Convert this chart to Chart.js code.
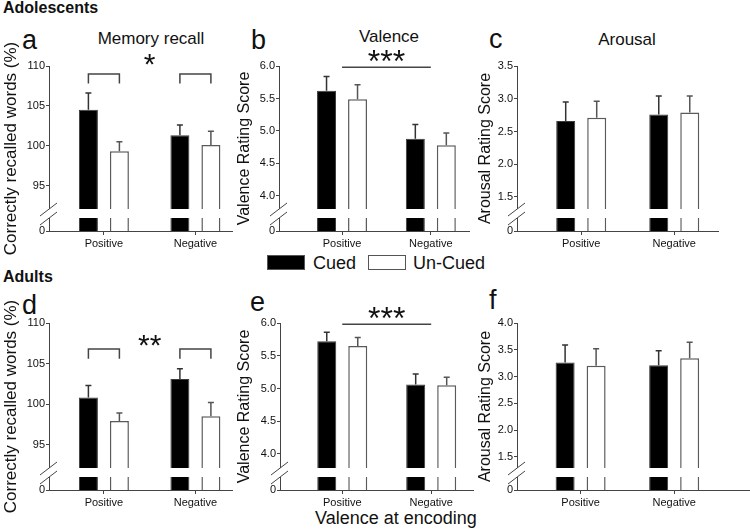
<!DOCTYPE html>
<html lang="en">
<head>
<meta charset="UTF-8">
<title>Memory recall, valence and arousal</title>
<script src="https://cdn.jsdelivr.net/npm/chart.js"></script>
<style>
    body { margin: 0; background: #fff; }
    #figure {
        position: relative;
        width: 750px;
        height: 529px;
        overflow: hidden;
        font-family: "Liberation Sans", Arial, sans-serif;
        color: #111;
    }
    #figure canvas { position: absolute; }
    .txt { position: absolute; white-space: nowrap; line-height: 1; }
    .group { font-size: 16px; font-weight: bold; left: 3px; }
    .letter { font-size: 27px; }
    .ptitle { font-size: 17px; transform: translateX(-50%); }
    .box { position: absolute; width: 36px; height: 13px; border: 1.5px solid #555; }
</style>
</head>
<body>

<div id="figure">
    <div class="txt group" style="top:0px">Adolescents</div>
    <div class="txt group" style="top:269px">Adults</div>

    <div class="txt letter" style="left:22px; top:27px">a</div>
    <div class="txt letter" style="left:251px; top:27px">b</div>
    <div class="txt letter" style="left:489px; top:26px">c</div>
    <div class="txt letter" style="left:22px; top:292px">d</div>
    <div class="txt letter" style="left:250px; top:289px">e</div>
    <div class="txt letter" style="left:489px; top:287px">f</div>

    <div class="txt ptitle" style="left:151px; top:30px">Memory recall</div>
    <div class="txt ptitle" style="left:389px; top:28px">Valence</div>
    <div class="txt ptitle" style="left:627px; top:31px">Arousal</div>

    <!-- legend -->
    <div class="box" style="left:267px; top:255px; background:#000"></div>
    <div class="txt" style="left:313px; top:254px; font-size:18px">Cued</div>
    <div class="box" style="left:368px; top:255px; background:#fff"></div>
    <div class="txt" style="left:413px; top:254px; font-size:18px">Un-Cued</div>

    <div class="txt" style="left:315px; top:509px; font-size:18px">Valence at encoding</div>
</div>

<script>
    Chart.defaults.font.family = '"Liberation Sans", Arial, sans-serif';

    // categories
    const categories = ["Positive", "Negative"];

    // Adolescents (means and SEM)
    const recallAdolCued = [104.5, 101.3];
    const recallAdolCuedErr = [2.1, 1.3];
    const recallAdolUncued = [99.3, 100.1];
    const recallAdolUncuedErr = [1.2, 1.7];

    const valenceAdolCued = [5.62, 4.88];
    const valenceAdolCuedErr = [0.22, 0.22];
    const valenceAdolUncued = [5.49, 4.78];
    const valenceAdolUncuedErr = [0.22, 0.19];

    const arousalAdolCued = [2.66, 2.76];
    const arousalAdolCuedErr = [0.29, 0.28];
    const arousalAdolUncued = [2.71, 2.79];
    const arousalAdolUncuedErr = [0.25, 0.25];

    // Adults (means and SEM)
    const recallAdultCued = [100.8, 103.1];
    const recallAdultCuedErr = [1.5, 1.25];
    const recallAdultUncued = [97.9, 98.5];
    const recallAdultUncuedErr = [1.0, 1.7];

    const valenceAdultCued = [5.72, 5.06];
    const valenceAdultCuedErr = [0.14, 0.16];
    const valenceAdultUncued = [5.65, 5.05];
    const valenceAdultUncuedErr = [0.13, 0.12];

    const arousalAdultCued = [3.26, 3.21];
    const arousalAdultCuedErr = [0.33, 0.27];
    const arousalAdultUncued = [3.20, 3.34];
    const arousalAdultUncuedErr = [0.32, 0.30];

    // y tick labels (the "0" under the axis break is added separately)
    const recallTicks = [95, 100, 105, 110];
    const valenceTicks = [4.0, 4.5, 5.0, 5.5, 6.0];
    const arousalAdolTicks = [1.5, 2.0, 2.5, 3.0, 3.5];
    const arousalAdultTicks = [1.5, 2.0, 2.5, 3.0, 3.5, 4.0];

    const figure = document.getElementById("figure");

    // error bars, axis break and significance marks
    function decoPlugin(p) {
        return {
            id: "deco",
            afterDatasetsDraw(chart) {
                const { ctx, chartArea: a, scales: { x, y } } = chart;
                ctx.save();

                // broken axis
                ctx.fillStyle = "#fff";
                ctx.fillRect(a.left - 2, a.bottom - 22, a.right - a.left + 2, 9);
                ctx.strokeStyle = "#444";
                ctx.lineWidth = 1;
                [a.bottom - 22, a.bottom - 13].forEach(yy => {
                    ctx.beginPath();
                    ctx.moveTo(a.left - 9, yy + 7);
                    ctx.lineTo(a.left + 8, yy - 6);
                    ctx.stroke();
                });

                // error bars (upper only)
                chart.data.datasets.forEach((ds, di) => {
                    chart.getDatasetMeta(di).data.forEach((bar, i) => {
                        const v = ds.data[i].y;
                        const top = y.getPixelForValue(v);
                        const end = y.getPixelForValue(v + ds.err[i]);
                        ctx.strokeStyle = ds.errColor;
                        ctx.lineWidth = 1.5;
                        ctx.beginPath();
                        ctx.moveTo(bar.x, top);
                        ctx.lineTo(bar.x, end);
                        ctx.moveTo(bar.x - 3, end);
                        ctx.lineTo(bar.x + 3, end);
                        ctx.stroke();
                    });
                });

                // significance
                const s = p.sig;
                if (s) {
                    const c0 = x.getPixelForValue(0), c1 = x.getPixelForValue(1);
                    ctx.strokeStyle = "#444";
                    ctx.lineWidth = 1.5;
                    let starY;
                    if (s.type === "brackets") {
                        const m0 = chart.getDatasetMeta(0).data, m1 = chart.getDatasetMeta(1).data;
                        const yt = y.getPixelForValue(s.top), yl = y.getPixelForValue(s.leg);
                        m0.forEach((b, i) => {
                            ctx.beginPath();
                            ctx.moveTo(b.x, yl);
                            ctx.lineTo(b.x, yt);
                            ctx.lineTo(m1[i].x, yt);
                            ctx.lineTo(m1[i].x, yl);
                            ctx.stroke();
                        });
                        starY = y.getPixelForValue(s.star);
                    } else {
                        const yt = y.getPixelForValue(s.level);
                        ctx.beginPath();
                        ctx.moveTo(c0, yt);
                        ctx.lineTo(c1, yt);
                        ctx.stroke();
                        starY = yt - 7;
                    }
                    ctx.fillStyle = "#111";
                    ctx.font = s.size + 'px "Liberation Sans", Arial, sans-serif';
                    ctx.textAlign = "center";
                    ctx.textBaseline = "alphabetic";
                    ctx.fillText(s.text, (c0 + c1) / 2, starY + 0.38 * s.size);
                }
                ctx.restore();
            }
        };
    }

    function makePanel(p) {
        const canvas = document.createElement("canvas");
        canvas.width = p.width;
        canvas.height = p.height;
        canvas.style.left = p.left + "px";
        canvas.style.top = p.top + "px";
        canvas.style.width = p.width + "px";
        canvas.style.height = p.height + "px";
        figure.appendChild(canvas);

        const pxPerUnit = (p.x1 - p.x0) / (p.xmax - p.xmin);
        const catPct = 62 / pxPerUnit;

        new Chart(canvas, {
            type: "bar",
            data: {
                datasets: [{
                    label: "Cued",
                    data: p.cued.map((v, i) => ({ x: i, y: v })),
                    err: p.cuedErr,
                    backgroundColor: "#000",
                    borderColor: "#3a3a3a",
                    borderWidth: 1,
                    errColor: "#333",
                    categoryPercentage: catPct,
                    barPercentage: 19 / 31
                }, {
                    label: "Un-Cued",
                    data: p.uncued.map((v, i) => ({ x: i, y: v })),
                    err: p.uncuedErr,
                    backgroundColor: "#fff",
                    borderColor: "#5a5a5a",
                    borderWidth: 1.5,
                    errColor: "#555",
                    categoryPercentage: catPct,
                    barPercentage: 19 / 31
                }]
            },
            options: {
                responsive: false,
                animation: false,
                layout: {
                    padding: { left: 0, right: p.left + p.width - p.x1, top: p.y0 - p.top, bottom: 0 }
                },
                plugins: {
                    legend: { display: false },
                    tooltip: { enabled: false }
                },
                scales: {
                    x: {
                        type: "linear",
                        min: p.xmin,
                        max: p.xmax,
                        bounds: "data",
                        offset: false,
                        grid: { display: true, offset: false, drawOnChartArea: false, drawTicks: true, tickLength: 4, color: "#444" },
                        border: { display: true, color: "#444", width: 1 },
                        ticks: {
                            autoSkip: false,
                            maxRotation: 0,
                            padding: 2,
                            color: "#111",
                            font: { size: 11 },
                            callback: v => categories[v] ?? ""
                        },
                        afterBuildTicks: s => { s.ticks = categories.map((c, i) => ({ value: i })); },
                        afterFit: s => { s.height = p.top + p.height - p.y1; }
                    },
                    y: {
                        min: p.ymin,
                        max: p.ymax,
                        bounds: "data",
                        grid: { display: true, drawOnChartArea: false, drawTicks: true, tickLength: 3, color: "#444" },
                        border: { display: true, color: "#444", width: 1 },
                        ticks: {
                            padding: 1,
                            color: "#111",
                            font: { size: 11 },
                            callback: v => v === p.ymin ? "0" : v.toFixed(p.dec)
                        },
                        afterBuildTicks: s => { s.ticks = [p.ymin, ...p.ticks].map(v => ({ value: v })); },
                        title: {
                            display: true,
                            text: p.yTitle,
                            color: "#111",
                            font: { size: p.titleSize },
                            padding: { top: p.titlePad, bottom: 0 }
                        },
                        afterFit: s => { s.width = p.x0 - p.left; }
                    }
                }
            },
            plugins: [decoPlugin(p)]
        });
    }

    const panels = [
        // a
        { left: 0, top: 30, width: 235, height: 232, x0: 49, x1: 232, y0: 66, y1: 231,
          xmin: -0.6, xmax: 1.4, ymin: 89.3, ymax: 110, ticks: recallTicks, dec: 0,
          yTitle: "Correctly recalled words (%)", titleSize: 17, titlePad: 1,
          cued: recallAdolCued, cuedErr: recallAdolCuedErr, uncued: recallAdolUncued, uncuedErr: recallAdolUncuedErr,
          sig: { type: "brackets", top: 109, leg: 107.8, star: 110.4, text: "*", size: 30 } },
        // b
        { left: 235, top: 30, width: 240, height: 232, x0: 279, x1: 469, y0: 66, y1: 231,
          xmin: -0.71, xmax: 1.43, ymin: 3.46, ymax: 6.0, ticks: valenceTicks, dec: 1,
          yTitle: "Valence Rating Score", titleSize: 16, titlePad: 0,
          cued: valenceAdolCued, cuedErr: valenceAdolCuedErr, uncued: valenceAdolUncued, uncuedErr: valenceAdolUncuedErr,
          sig: { type: "line", level: 5.98, text: "***", size: 32 } },
        // c
        { left: 475, top: 30, width: 275, height: 232, x0: 517, x1: 718, y0: 66, y1: 231,
          xmin: -0.69, xmax: 1.47, ymin: 0.98, ymax: 3.5, ticks: arousalAdolTicks, dec: 1,
          yTitle: "Arousal Rating Score", titleSize: 16, titlePad: 1,
          cued: arousalAdolCued, cuedErr: arousalAdolCuedErr, uncued: arousalAdolUncued, uncuedErr: arousalAdolUncuedErr },
        // d
        { left: 0, top: 290, width: 235, height: 239, x0: 49, x1: 232, y0: 323, y1: 490,
          xmin: -0.6, xmax: 1.4, ymin: 89.4, ymax: 110, ticks: recallTicks, dec: 0,
          yTitle: "Correctly recalled words (%)", titleSize: 17, titlePad: 1,
          cued: recallAdultCued, cuedErr: recallAdultCuedErr, uncued: recallAdultUncued, uncuedErr: recallAdultUncuedErr,
          sig: { type: "brackets", top: 106.8, leg: 105.6, star: 107.4, text: "**", size: 30 } },
        // e
        { left: 235, top: 290, width: 240, height: 239, x0: 280, x1: 473, y0: 323, y1: 490,
          xmin: -0.70, xmax: 1.47, ymin: 3.45, ymax: 6.0, ticks: valenceTicks, dec: 1,
          yTitle: "Valence Rating Score", titleSize: 16, titlePad: 0,
          cued: valenceAdultCued, cuedErr: valenceAdultCuedErr, uncued: valenceAdultUncued, uncuedErr: valenceAdultUncuedErr,
          sig: { type: "line", level: 5.98, text: "***", size: 32 } },
        // f
        { left: 475, top: 290, width: 275, height: 239, x0: 517, x1: 749, y0: 323, y1: 490,
          xmin: -0.68, xmax: 1.8, ymin: 0.88, ymax: 4.0, ticks: arousalAdultTicks, dec: 1,
          yTitle: "Arousal Rating Score", titleSize: 16, titlePad: 1,
          cued: arousalAdultCued, cuedErr: arousalAdultCuedErr, uncued: arousalAdultUncued, uncuedErr: arousalAdultUncuedErr }
    ];

    panels.forEach(makePanel);
</script>

</body>
</html>
